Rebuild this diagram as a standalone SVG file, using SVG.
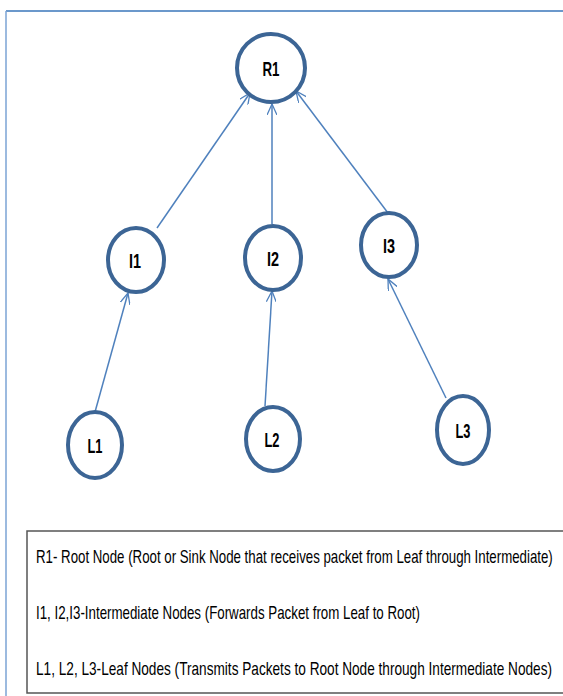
<svg xmlns="http://www.w3.org/2000/svg" width="563" height="696" viewBox="0 0 563 696">
<defs>
<style>
.node{fill:#fff;stroke:#3c6595;stroke-width:4}
.lbl{font-family:"Liberation Sans",Arial,sans-serif;font-weight:bold;font-size:21px;fill:#000;text-anchor:middle}
.edge{stroke:#4f81bd;stroke-width:1.5;fill:none;marker-end:url(#arr)}
.leg{font-family:"Liberation Sans",Arial,sans-serif;font-size:18px;fill:#000}
</style>
<marker id="arr" viewBox="0 0 12 10" refX="11" refY="5" markerWidth="12" markerHeight="10" markerUnits="userSpaceOnUse" orient="auto">
<path d="M0,0 L11,5 L0,10" fill="none" stroke="#4f81bd" stroke-width="1.3"/>
</marker>
</defs>
<rect width="563" height="696" fill="#fff"/>
<g id="frame">
<line x1="6" y1="11" x2="563" y2="11" stroke="#6b98cb" stroke-width="2"/>
<line x1="6" y1="11" x2="6" y2="696" stroke="#7ba3d4" stroke-width="1.5"/>
</g>
<g id="connectors">
<line class="edge" x1="157" y1="228" x2="250" y2="93"/>
<line class="edge" x1="272" y1="224" x2="272" y2="104"/>
<line class="edge" x1="388" y1="213" x2="296" y2="91"/>
<line class="edge" x1="95" y1="412" x2="128" y2="293"/>
<line class="edge" x1="265" y1="406" x2="272" y2="291"/>
<line class="edge" x1="446" y1="398" x2="388" y2="279"/>
</g>
<g id="R1"><ellipse class="node" cx="271" cy="68" rx="34" ry="34"/><text class="lbl" x="271" y="76" textLength="17" lengthAdjust="spacingAndGlyphs">R1</text></g>
<g id="I1"><ellipse class="node" cx="136" cy="260" rx="28" ry="32"/><text class="lbl" x="135" y="268" textLength="12" lengthAdjust="spacingAndGlyphs">I1</text></g>
<g id="I2"><ellipse class="node" cx="273" cy="258" rx="28" ry="32"/><text class="lbl" x="273" y="266" textLength="12" lengthAdjust="spacingAndGlyphs">I2</text></g>
<g id="I3"><ellipse class="node" cx="389" cy="245" rx="28" ry="32"/><text class="lbl" x="389" y="253" textLength="12" lengthAdjust="spacingAndGlyphs">I3</text></g>
<g id="L1"><ellipse class="node" cx="95" cy="445" rx="27" ry="33"/><text class="lbl" x="95" y="453" textLength="15" lengthAdjust="spacingAndGlyphs">L1</text></g>
<g id="L2"><ellipse class="node" cx="273" cy="439" rx="27" ry="32"/><text class="lbl" x="272" y="447" textLength="15" lengthAdjust="spacingAndGlyphs">L2</text></g>
<g id="L3"><ellipse class="node" cx="463" cy="430" rx="26" ry="34"/><text class="lbl" x="463" y="438" textLength="15" lengthAdjust="spacingAndGlyphs">L3</text></g>
<g id="legend">
<rect x="27" y="531" width="536" height="162" fill="#fff"/>
<path d="M563,531 H27 V693 H563" fill="none" stroke="#555" stroke-width="1.5"/>
<text class="leg" transform="translate(36,563) scale(0.75,1)" x="0" y="0" textLength="689" lengthAdjust="spacingAndGlyphs">R1- Root Node (Root or Sink Node that receives packet from Leaf through Intermediate)</text>
<text class="leg" transform="translate(36,619) scale(0.75,1)" x="0" y="0" textLength="512" lengthAdjust="spacingAndGlyphs">I1, I2,I3-Intermediate Nodes (Forwards Packet from Leaf to Root)</text>
<text class="leg" transform="translate(36,675) scale(0.75,1)" x="0" y="0" textLength="688" lengthAdjust="spacingAndGlyphs">L1, L2, L3-Leaf Nodes (Transmits Packets to Root Node through Intermediate Nodes)</text>
</g>
</svg>
